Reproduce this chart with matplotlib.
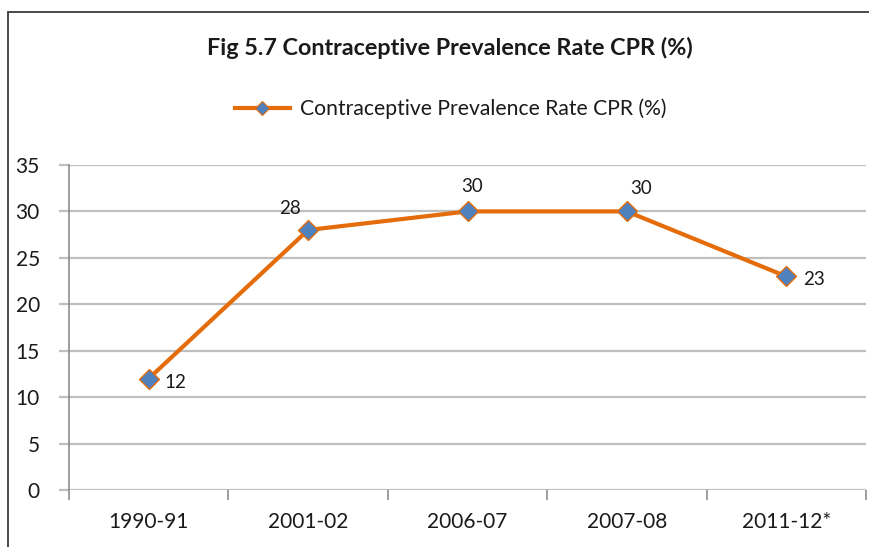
import numpy as np
import matplotlib.pyplot as plt
from matplotlib.patches import Rectangle
from matplotlib.lines import Line2D

# Chart data
years = ['1990-91', '2001-02', '2006-07', '2007-08', '2011-12*']
cpr = [12, 28, 30, 30, 23]
y_ticks = [0, 5, 10, 15, 20, 25, 30, 35]
# label offsets in pixels (dx, dy)
label_offsets = [(27, -4), (-18, 22), (5, 25), (14, 23), (28, -3)]

plt.rcParams['font.family'] = ['Lato', 'DejaVu Sans']

fig = plt.figure(figsize=(8.69, 5.47), dpi=100)
ax = fig.add_axes([69 / 869, 1 - 490 / 547, (866 - 69) / 869, (490 - 165) / 547])

# outer frame of the chart object
fig.patches.append(Rectangle((8 / 869, -0.05), 1.1, 1 - 12 / 547 + 0.05,
                             transform=fig.transFigure, fill=False,
                             edgecolor='#3a3a3a', linewidth=1.3))

x = np.arange(len(years))
ax.plot(x, cpr, color='#E46C0A', linewidth=3, marker='D', markersize=10.5,
        markerfacecolor='#4F81BD', markeredgecolor='#E46C0A', markeredgewidth=1, zorder=3)

for xi, yi, (dx, dy) in zip(x, cpr, label_offsets):
    ax.annotate(str(yi), (xi, yi), xytext=(dx * 0.72, dy * 0.72), textcoords='offset points',
                ha='center', va='center', fontsize=13.5, color='#1a1a1a')

ax.set_xlim(-0.5, len(years) - 0.5)
ax.set_ylim(0, 35)
ax.set_yticks(y_ticks)
ax.set_xticks(x)
ax.set_xticklabels(years)
ax.set_xticks(np.arange(-0.5, len(years)), minor=True)

ax.grid(axis='y', color='#BFBFBF', linewidth=1.6)
ax.set_axisbelow(True)
for s in ['top', 'right', 'bottom']:
    ax.spines[s].set_visible(False)
ax.spines['left'].set_color('#8C8C8C')
ax.spines['left'].set_linewidth(1.2)

ax.tick_params(axis='x', which='major', length=0, labelsize=15, pad=16, colors='#1a1a1a')
ax.tick_params(axis='x', which='minor', length=7, width=1.2, color='#8C8C8C')
ax.tick_params(axis='y', length=7, width=1.6, color='#BFBFBF', labelsize=15, pad=14,
               labelcolor='#1a1a1a')

fig.text(450 / 869, 1 - 48 / 547, 'Fig 5.7 Contraceptive Prevalence Rate CPR (%)',
         ha='center', va='center', fontsize=16.8, fontweight='bold', color='#1a1a1a')

legend_handle = Line2D([], [], color='#E46C0A', linewidth=3, marker='D', markersize=7,
                       markerfacecolor='#4F81BD', markeredgecolor='#E46C0A', markeredgewidth=0.8)
fig.legend(handles=[legend_handle], labels=['Contraceptive Prevalence Rate CPR (%)'],
           loc='center', bbox_to_anchor=(451 / 869, 1 - 109 / 547),
           frameon=False, fontsize=15.2, handlelength=2.6, handletextpad=0.5,
           labelcolor='#1a1a1a')

fig.savefig('out.png', dpi=100)
